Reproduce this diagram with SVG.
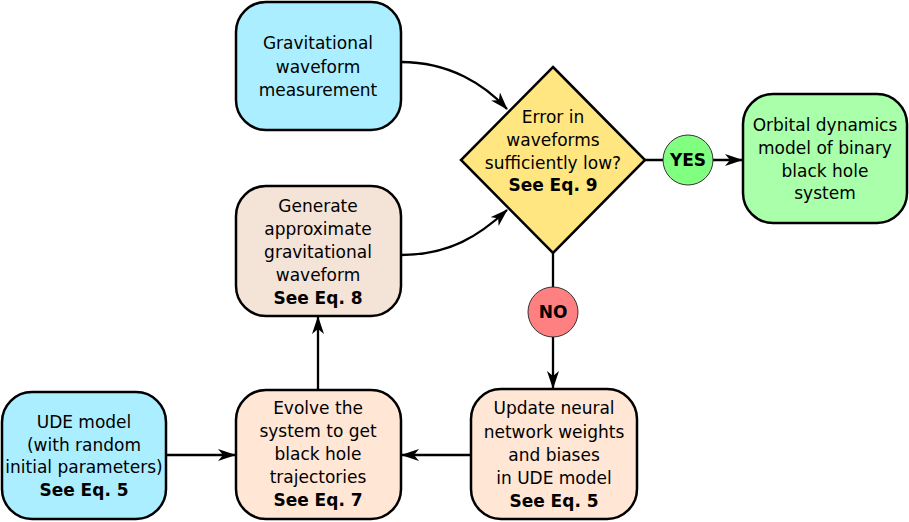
<svg xmlns="http://www.w3.org/2000/svg" width="909" height="522" viewBox="0 0 909 522">
<defs>
<style>
.box{stroke:#000;stroke-width:2.5}
.t{font-family:"DejaVu Sans","Liberation Sans",sans-serif;font-size:17px;fill:#000;text-anchor:middle}
.b{font-weight:bold}
.c{fill:none;stroke:#000;stroke-width:2.3}
.lbl{stroke:#333;stroke-width:1}
</style>
<marker id="ah" viewBox="0 0 18 12" refX="17" refY="6" markerWidth="18" markerHeight="12" markerUnits="userSpaceOnUse" orient="auto">
<path d="M0,0 L18,6 L0,12 L5,6 Z" fill="#000"/>
</marker>
</defs>
<rect width="909" height="522" fill="#fff"/>
<g id="connectors">
<path class="c" d="M401,62 C450,62 485,85 507,109" marker-end="url(#ah)"/>
<path class="c" d="M401,255 C450,255 480,235 507,210" marker-end="url(#ah)"/>
<path class="c" d="M645,160 L742,160" marker-end="url(#ah)"/>
<path class="c" d="M553,253 L553,388" marker-end="url(#ah)"/>
<path class="c" d="M471,455 L402,455" marker-end="url(#ah)"/>
<path class="c" d="M166,455 L235,455" marker-end="url(#ah)"/>
<path class="c" d="M318,390 L318,317" marker-end="url(#ah)"/>
</g>
<g id="measurement">
<rect class="box" x="236" y="2" width="165" height="128" rx="30" fill="#aaeeff"/>
<text class="t" x="318" y="49">Gravitational</text>
<text class="t" x="318" y="72.5">waveform</text>
<text class="t" x="318" y="96">measurement</text>
</g>
<g id="generate">
<rect class="box" x="236" y="186" width="165" height="130" rx="30" fill="#f4e3d7"/>
<text class="t" x="318" y="212">Generate</text>
<text class="t" x="318" y="235">approximate</text>
<text class="t" x="318" y="258">gravitational</text>
<text class="t" x="318" y="281">waveform</text>
<text class="t b" x="318" y="304">See Eq. 8</text>
</g>
<g id="decision">
<path class="box" d="M553,67 L645,160 L553,253 L461,160 Z" fill="#ffe680" stroke-linejoin="miter"/>
<text class="t" x="553" y="123">Error in</text>
<text class="t" x="553" y="145.5">waveforms</text>
<text class="t" x="553" y="168.5">sufficiently low?</text>
<text class="t b" x="553" y="191">See Eq. 9</text>
</g>
<g id="yes">
<circle class="lbl" cx="688" cy="160" r="25" fill="#80ff80"/>
<text class="t b" x="688" y="166">YES</text>
</g>
<g id="result">
<rect class="box" x="743" y="94" width="164" height="129" rx="30" fill="#aaffaa"/>
<text class="t" x="825" y="131">Orbital dynamics</text>
<text class="t" x="825" y="153.5">model of binary</text>
<text class="t" x="825" y="176.5">black hole</text>
<text class="t" x="825" y="199">system</text>
</g>
<g id="no">
<circle class="lbl" cx="553" cy="312" r="25" fill="#ff8080"/>
<text class="t b" x="553" y="318">NO</text>
</g>
<g id="update">
<rect class="box" x="471" y="389" width="166" height="130" rx="30" fill="#ffe6d5"/>
<text class="t" x="554" y="414">Update neural</text>
<text class="t" x="554" y="437.5">network weights</text>
<text class="t" x="554" y="461">and biases</text>
<text class="t" x="554" y="484">in UDE model</text>
<text class="t b" x="554" y="507">See Eq. 5</text>
</g>
<g id="evolve">
<rect class="box" x="236" y="390" width="165" height="129" rx="30" fill="#ffe6d5"/>
<text class="t" x="318" y="414">Evolve the</text>
<text class="t" x="318" y="437">system to get</text>
<text class="t" x="318" y="460">black hole</text>
<text class="t" x="318" y="483">trajectories</text>
<text class="t b" x="318" y="506">See Eq. 7</text>
</g>
<g id="ude">
<rect class="box" x="2" y="392" width="164" height="127" rx="30" fill="#aaeeff"/>
<text class="t" x="84" y="428">UDE model</text>
<text class="t" x="84" y="450.5">(with random</text>
<text class="t" x="84" y="473">initial parameters)</text>
<text class="t b" x="84" y="496">See Eq. 5</text>
</g>
</svg>
